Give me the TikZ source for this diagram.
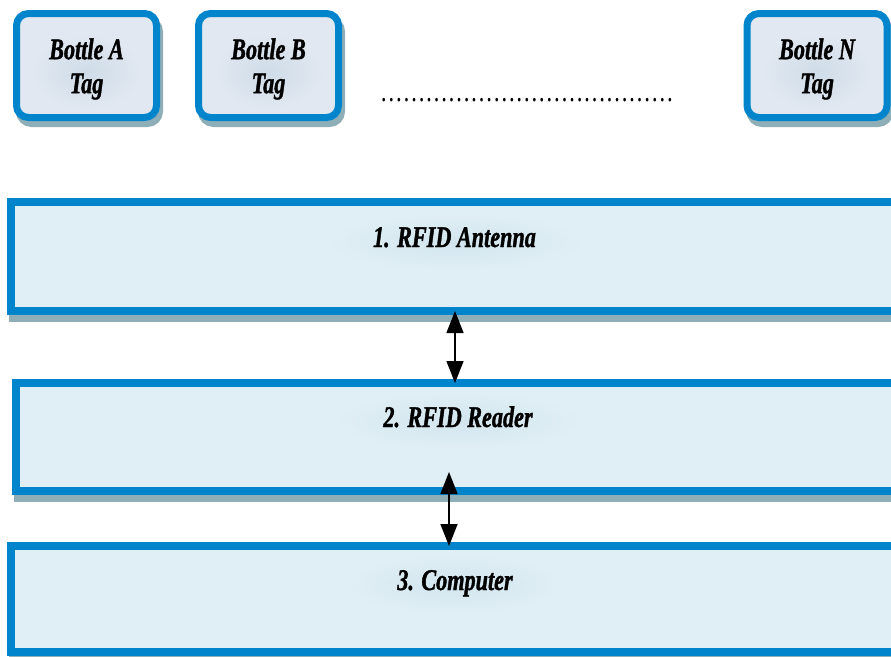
\documentclass[tikz,border=0pt]{standalone}
\usepackage{fontspec}
\usetikzlibrary{arrows.meta}
\newfontfamily\labelfont[FakeStretch=0.74]{Liberation Serif}
\newfontfamily\headfont[FakeStretch=0.74, FakeBold=1.2]{Liberation Serif}
\definecolor{edgeblue}{RGB}{0,133,204}
\definecolor{layerfill}{RGB}{224,239,245}
\definecolor{tagfill}{RGB}{225,232,241}
\definecolor{shadowc}{RGB}{143,175,184}
\definecolor{layerglow}{RGB}{210,229,238}
\definecolor{tagglow}{RGB}{207,220,231}
\tikzset{
  layerbox/.style={draw=edgeblue, fill=layerfill, line width=8pt, outer sep=0pt,
    inner sep=0pt, rectangle,
    preaction={draw=shadowc, fill=shadowc, transform canvas={xshift=2pt, yshift=-7pt}}},
  tagbox/.style={draw=edgeblue, fill=tagfill, line width=7pt, outer sep=0pt,
    rounded corners=12pt, minimum width=140pt, minimum height=104pt, inner sep=0pt,
    preaction={draw=shadowc, fill=shadowc, transform canvas={xshift=3pt, yshift=-6pt}}},
  tagtext/.style={font=\headfont\bfseries\itshape\fontsize{30}{34}\selectfont, align=center},
  layertext/.style={font=\headfont\bfseries\itshape\fontsize{30}{34}\selectfont,
    anchor=base, inner sep=0pt},
  biarrow/.style={line width=1.5pt, {Triangle[width=17pt,length=22pt]}-{Triangle[width=17pt,length=22pt]}},
}
\begin{document}
\begin{tikzpicture}[x=1pt, y=-1pt]
  \clip (0,0) rectangle (891,656);
  \fill[white] (0,0) rectangle (891,656);

  % bottle tags
  \node[tagbox] (tagA) at (86.5,65.5) {};
  \node[tagbox] (tagB) at (268.5,65.5) {};
  \node[tagbox] (tagN) at (817,65.5) {};
  \shade[inner color=tagglow, outer color=tagfill] (86.5,72) ellipse (55 and 38);
  \shade[inner color=tagglow, outer color=tagfill] (268.5,72) ellipse (55 and 38);
  \shade[inner color=tagglow, outer color=tagfill] (817,72) ellipse (55 and 38);
  \node[tagtext] (tagAtext) at (86.5,69) {Bottle A\\Tag};
  \node[tagtext] (tagBtext) at (268.5,69) {Bottle B\\Tag};
  \node[tagtext] (tagNtext) at (817,69) {Bottle N\\Tag};

  \node[font=\labelfont\fontsize{30.5}{34}\selectfont, anchor=base west, inner sep=0pt]
    (more) at (380,101) {…………………………………};

  % system layers
  \node[layerbox, minimum width=884pt, minimum height=109pt] (box1) at (453,256.5) {};
  \node[layerbox, minimum width=879pt, minimum height=108pt] (box2) at (455.5,437) {};
  \node[layerbox, minimum width=884pt, minimum height=106pt] (box3) at (453,599) {};

  \shade[inner color=layerglow, outer color=layerfill] (455,242) ellipse (130 and 29);
  \shade[inner color=layerglow, outer color=layerfill] (458,421) ellipse (125 and 29);
  \shade[inner color=layerglow, outer color=layerfill] (455,584) ellipse (110 and 30);

  \node[layertext] (label1) at (454.5,247) {1. RFID Antenna};
  \node[layertext] (label2) at (458,427) {2. RFID Reader};
  \node[layertext] (label3) at (455,590) {3. Computer};

  % links between layers
  \coordinate (ax1) at (455,0);
  \coordinate (ax2) at (449,472);
  \draw[biarrow] (box1.south -| ax1) -- (box2.north -| ax1);
  \draw[biarrow] (ax2) -- (box3.north -| ax2);
\end{tikzpicture}
\end{document}
